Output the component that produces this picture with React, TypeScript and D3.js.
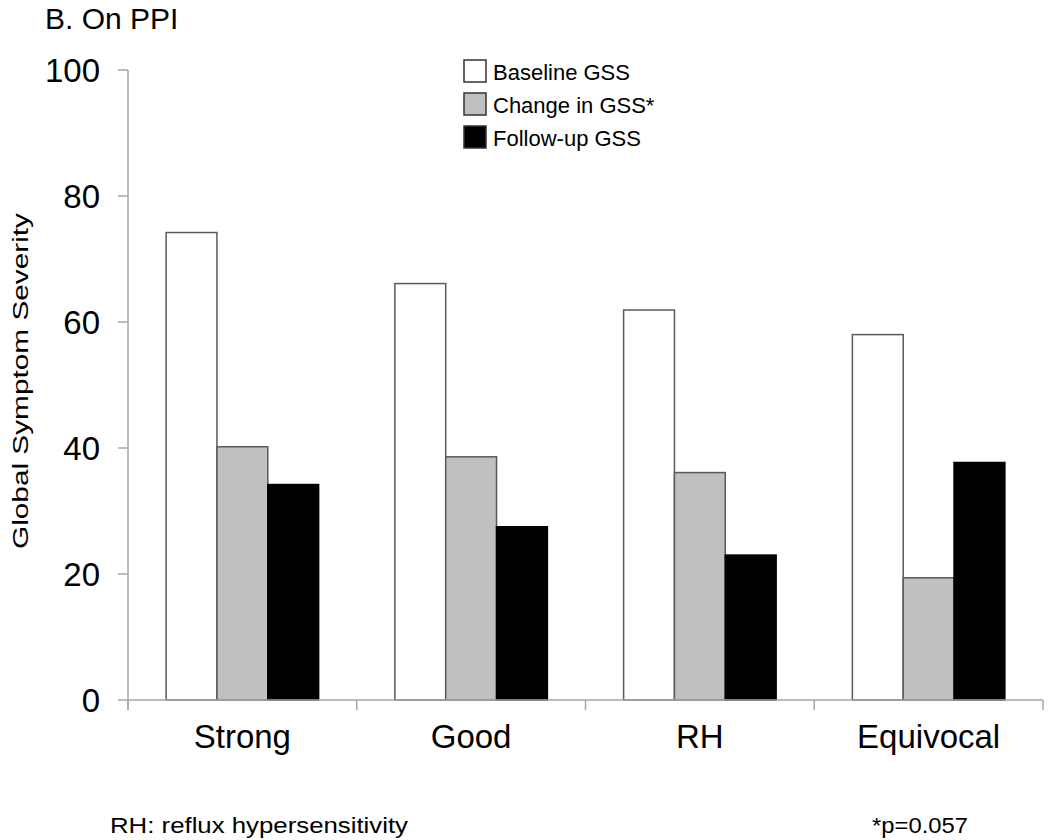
import * as d3 from "d3";

const categories = ["Strong", "Good", "RH", "Equivocal"];
const seriesNames = ["Baseline GSS", "Change in GSS*", "Follow-up GSS"];
const baseline = [74.2, 66.1, 61.9, 58.0];
const change = [40.2, 38.6, 36.1, 19.4];
const followUp = [34.2, 27.5, 23.0, 37.7];
const yTicks = [0, 20, 40, 60, 80, 100];

const fills = ["#ffffff", "#c0c0c0", "#000000"];
const strokes = ["#5a5a5a", "#5a5a5a", "#000000"];
const axisColor = "#a6a6a6";
const font = "'Liberation Sans', Arial, sans-serif";

export default function App() {
  const width = 1050;
  const height = 840;
  const left = 128;
  const right = 1043;
  const top = 70;
  const bottom = 700;

  const series = [baseline, change, followUp];

  const x = d3
    .scaleBand()
    .domain(categories)
    .range([left, right])
    .paddingInner(1 / 3)
    .paddingOuter(1 / 6);
  const xSub = d3
    .scaleBand()
    .domain(seriesNames)
    .range([0, x.bandwidth()]);
  const y = d3.scaleLinear().domain([0, 100]).range([bottom, top]);

  const step = x.step();
  const boundaries = d3.range(categories.length + 1).map((i) => left + i * step);

  return (
    <svg
      width={width}
      height={height}
      style={{ position: "absolute", left: 0, top: 0, background: "#fff" }}
      fontFamily={font}
    >
      <rect x={0} y={0} width={width} height={height} fill="#fff" />

      {/* title */}
      <text x={45} y={29} fontSize={30} fill="#000">
        B. On PPI
      </text>

      {/* y axis */}
      <line x1={left} x2={left} y1={top} y2={bottom + 10} stroke={axisColor} strokeWidth={1.5} />
      {yTicks.map((t) => (
        <g key={t}>
          <line x1={left - 10} x2={left} y1={y(t)} y2={y(t)} stroke={axisColor} strokeWidth={1.5} />
          <text x={100} y={y(t) + 11.5} fontSize={33} textAnchor="end" fill="#000">
            {t}
          </text>
        </g>
      ))}
      <text
        transform={`translate(28,381) rotate(-90)`}
        fontSize={22}
        textAnchor="middle"
        textLength={336}
        lengthAdjust="spacingAndGlyphs"
        fill="#000"
      >
        Global Symptom Severity
      </text>

      {/* bars */}
      {categories.map((c, i) => (
        <g key={c} transform={`translate(${x(c)},0)`}>
          {series.map((s, j) => (
            <rect
              key={j}
              x={xSub(seriesNames[j])}
              y={y(s[i])}
              width={xSub.bandwidth()}
              height={bottom - y(s[i])}
              fill={fills[j]}
              stroke={strokes[j]}
              strokeWidth={1.5}
            />
          ))}
        </g>
      ))}

      {/* x axis */}
      <line x1={left} x2={right} y1={bottom} y2={bottom} stroke={axisColor} strokeWidth={1.5} />
      {boundaries.map((b, i) => (
        <line key={i} x1={b} x2={b} y1={bottom} y2={bottom + 10} stroke={axisColor} strokeWidth={1.5} />
      ))}
      {categories.map((c) => (
        <text
          key={c}
          x={(x(c) as number) + x.bandwidth() / 2}
          y={748}
          fontSize={33}
          textAnchor="middle"
          fill="#000"
        >
          {c}
        </text>
      ))}

      {/* legend */}
      {seriesNames.map((n, j) => (
        <g key={n} transform={`translate(464,${60 + j * 33})`}>
          <rect x={0} y={0} width={22} height={22} fill={fills[j]} stroke="#333" strokeWidth={1.5} />
          <text x={29} y={19.5} fontSize={22} fill="#000">
            {n}
          </text>
        </g>
      ))}

      {/* footnotes */}
      <text x={110} y={833} fontSize={22} textLength={298} lengthAdjust="spacingAndGlyphs" fill="#000">
        RH: reflux hypersensitivity
      </text>
      <text x={872} y={833} fontSize={22} textLength={96} lengthAdjust="spacingAndGlyphs" fill="#000">
        *p=0.057
      </text>
    </svg>
  );
}
